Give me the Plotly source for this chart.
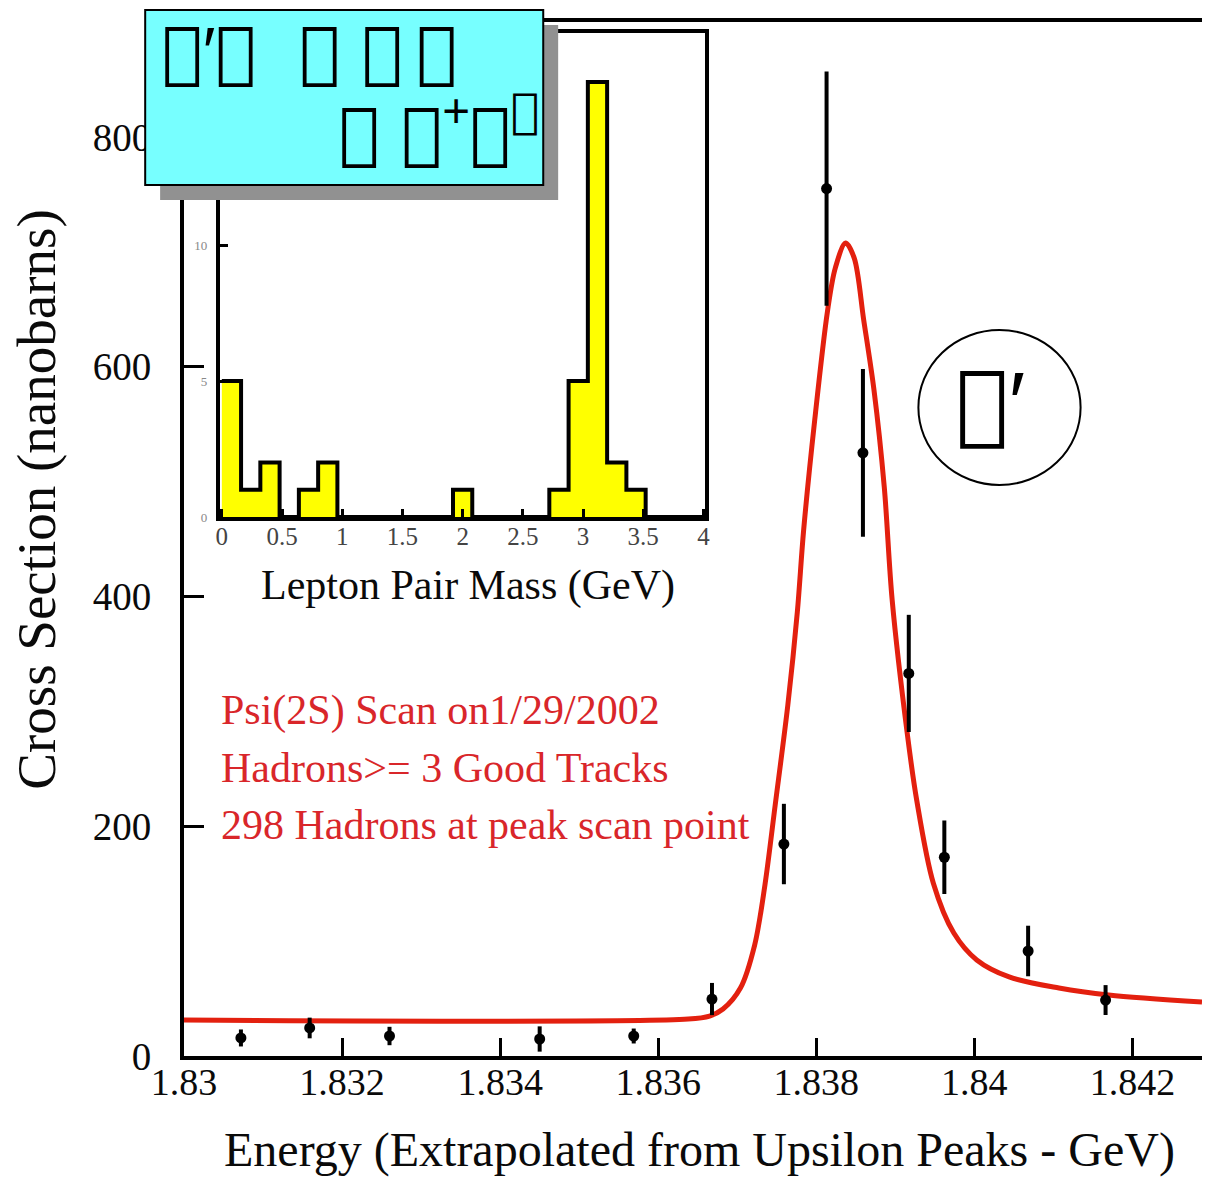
import numpy as np
import plotly.graph_objects as go

# ---- scan data: psi(2S) hadronic cross section vs. beam energy ----
SCAN_E = [1.83072, 1.83159, 1.83260, 1.83450, 1.83569, 1.83668, 1.83759,
          1.83813, 1.83859, 1.83917, 1.83962, 1.84068, 1.84166]
SCAN_SIGMA = [15.7, 24.4, 17.4, 14.8, 17.4, 49.6, 184.5,
              755.0, 525.0, 333.0, 173.0, 91.4, 48.7]
SCAN_ERR = [7.4, 9.0, 8.0, 11.0, 6.5, 14.0, 35.0,
            102.0, 73.0, 51.0, 32.0, 22.0, 13.0]

# ---- fitted resonance shape ----
FIT_E = [1.83000, 1.83638, 1.83665, 1.83682, 1.83704, 1.83722, 1.83735,
         1.83748, 1.83764, 1.83776, 1.83784, 1.83798, 1.83814, 1.83824,
         1.83837, 1.83848, 1.83860, 1.83873, 1.83886, 1.83896, 1.83915,
         1.83927, 1.83948, 1.83974, 1.84003, 1.84044, 1.84107, 1.84170,
         1.84288]
FIT_SIGMA = [31.3, 32.2, 34.8, 40.9, 59.2, 96.6, 148.8,
             218.5, 305.5, 386.4, 457.8, 553.5, 647.5, 685.8,
             707.6, 694.5, 640.6, 579.6, 495.2, 396.9, 281.1,
             222.8, 150.6, 107.0, 83.6, 68.8, 59.2, 53.1,
             47.0]

# ---- inset: lepton pair mass histogram (25 bins over 0-4 GeV) ----
PAIR_COUNTS = [5, 1, 2, 0, 1, 2, 0, 0, 0, 0, 0, 0, 1, 0, 0, 0, 0, 1, 5, 16,
               2, 1, 0, 0, 0]
PAIR_EDGES = np.linspace(0.0, 4.0, len(PAIR_COUNTS) + 1)

X_TICKS = [1.83, 1.832, 1.834, 1.836, 1.838, 1.84, 1.842]
X_TICK_TEXT = ["1.83", "1.832", "1.834", "1.836", "1.838", "1.84", "1.842"]
Y_TICKS = [0, 200, 400, 600, 800]
INSET_X_TICKS = [0, 0.5, 1, 1.5, 2, 2.5, 3, 3.5, 4]
INSET_X_TEXT = ["0", "0.5", "1", "1.5", "2", "2.5", "3", "3.5", "4"]
INSET_Y_TICKS = [0, 5, 10, 15]

# decay-chain labels, typed in Symbol-font code points
# (psi, prime, arrow, pi, mu, minus); prime and plus use a sans face
PRIME = "<span style='font-family:Liberation Sans'>\u2032</span>"
PLUS = "<span style='font-family:Liberation Sans'>+</span>"
DECAY_LINE1 = "\uf079" + PRIME + "\uf0ae  \uf079 \uf070\u2009\uf070"
DECAY_LINE2 = "\uf0ae \uf06d<sup>" + PLUS + "</sup>\uf06d<sup>\uf02d</sup>"
PSI_PRIME = "\uf079" + PRIME

NOTES = ["Psi(2S) Scan on1/29/2002",
         "Hadrons>= 3 Good Tracks",
         "298 Hadrons at peak scan point"]

W, H = 1207, 1177
PL, PR, PT, PB = 184, 1207, 22, 1056


def fx(px):
    return (px - PL) / (PR - PL)


def fy(py):
    return (PB - py) / (PB - PT)


SERIF = "Liberation Serif"
LABEL_FONT = "DejaVu Sans"
FIT_RED = "#e3200f"
TEXT_RED = "#d9262a"
INK = "#0a0a0a"

fig = go.Figure()

# fit curve
fig.add_trace(go.Scatter(
    x=FIT_E, y=FIT_SIGMA, mode="lines",
    line=dict(color=FIT_RED, width=5, shape="spline", smoothing=0.9),
    hoverinfo="skip", showlegend=False))

# measured points
fig.add_trace(go.Scatter(
    x=SCAN_E, y=SCAN_SIGMA, mode="markers",
    marker=dict(color="black", size=11),
    error_y=dict(type="data", array=SCAN_ERR, color="black",
                 thickness=4, width=0),
    showlegend=False))

# inset histogram drawn as a filled step outline
step_x = list(PAIR_EDGES[:-1]) + [PAIR_EDGES[-1]]
step_y = list(PAIR_COUNTS) + [PAIR_COUNTS[-1]]
fig.add_trace(go.Scatter(
    x=step_x, y=step_y, mode="lines", xaxis="x2", yaxis="y2",
    line=dict(color="black", width=4, shape="hv"),
    fill="tozeroy", fillcolor="#ffff00",
    hoverinfo="skip", showlegend=False))

fig.update_layout(
    width=W, height=H,
    margin=dict(l=PL, r=W - PR, t=PT, b=H - PB, pad=0),
    paper_bgcolor="white", plot_bgcolor="white",
    showlegend=False,
    xaxis=dict(
        domain=[0, 1], range=[1.83, 1.84288],
        tickvals=X_TICKS, ticktext=X_TICK_TEXT,
        ticks="inside", ticklen=18, tickwidth=3, tickcolor="black",
        showline=True, linewidth=4, linecolor="black", mirror=True,
        showgrid=False, zeroline=False,
        tickfont=dict(family=SERIF, size=38, color=INK),
        ticklabelstandoff=-11),
    yaxis=dict(
        domain=[0, 1], range=[0, 900],
        tickvals=Y_TICKS,
        ticks="inside", ticklen=20, tickwidth=3, tickcolor="black",
        showline=True, linewidth=4, linecolor="black", mirror=False,
        showgrid=False, zeroline=False,
        tickfont=dict(family=SERIF, size=39, color=INK),
        ticklabelstandoff=21),
    xaxis2=dict(
        domain=[fx(220), fx(708)], range=[-0.0165, 4.0165], anchor="y2",
        tickvals=INSET_X_TICKS, ticktext=INSET_X_TEXT,
        ticks="inside", ticklen=8, tickwidth=3, tickcolor="black",
        showline=True, linewidth=4, linecolor="black", mirror=True,
        showgrid=False, zeroline=False,
        tickfont=dict(family=SERIF, size=25, color="#444444"),
        ticklabelstandoff=-6),
    yaxis2=dict(
        domain=[fy(517), fy(33)], range=[0, 17.8], anchor="x2",
        tickvals=INSET_Y_TICKS,
        ticks="inside", ticklen=8, tickwidth=3, tickcolor="black",
        showline=True, linewidth=4, linecolor="black", mirror=True,
        showgrid=False, zeroline=False,
        tickfont=dict(family=SERIF, size=13, color="#888888"),
        ticklabelstandoff=6),
)

shapes = [
    # drop shadow and cyan label box
    dict(type="rect", xref="paper", yref="paper",
         x0=fx(160), x1=fx(560), y0=fy(200), y1=fy(25),
         fillcolor="#919191", line=dict(width=0), layer="above"),
    dict(type="rect", xref="paper", yref="paper",
         x0=fx(145), x1=fx(545), y0=fy(185), y1=fy(10),
         fillcolor="#77ffff", line=dict(color="black", width=2),
         layer="above"),
    # ring around the resonance label
    dict(type="circle", xref="paper", yref="paper",
         x0=fx(922), x1=fx(1085), y0=fy(485), y1=fy(330),
         line=dict(color="black", width=2), layer="above"),
]

annotations = [
    dict(text="Energy (Extrapolated from Upsilon Peaks - GeV)",
         x=fx(702), y=fy(1150), xref="paper", yref="paper",
         xanchor="center", yanchor="middle", showarrow=False,
         font=dict(family=SERIF, size=48, color=INK)),
    dict(text="Cross Section (nanobarns)", textangle=-90,
         x=fx(35), y=fy(500), xref="paper", yref="paper",
         xanchor="center", yanchor="middle", showarrow=False,
         font=dict(family=SERIF, size=55, color=INK)),
    dict(text="Lepton Pair Mass (GeV)",
         x=fx(469), y=fy(585), xref="paper", yref="paper",
         xanchor="center", yanchor="middle", showarrow=False,
         font=dict(family=SERIF, size=42, color=INK)),
    dict(text=DECAY_LINE1, x=fx(160), y=fy(51), xref="paper", yref="paper",
         xanchor="left", yanchor="middle", showarrow=False,
         font=dict(family=LABEL_FONT, size=68, color="black")),
    dict(text=DECAY_LINE2, x=fx(338), y=fy(128), xref="paper", yref="paper",
         xanchor="left", yanchor="middle", showarrow=False,
         font=dict(family=LABEL_FONT, size=68, color="black")),
    dict(text=PSI_PRIME, x=fx(958), y=fy(403), xref="paper", yref="paper",
         xanchor="left", yanchor="middle", showarrow=False,
         font=dict(family=LABEL_FONT, size=88, color="black")),
]
for i, line in enumerate(NOTES):
    annotations.append(dict(
        text=line, x=fx(219), y=fy(710 + 57.5 * i), xref="paper", yref="paper",
        xanchor="left", yanchor="middle", showarrow=False,
        font=dict(family=SERIF, size=42, color=TEXT_RED)))

fig.update_layout(shapes=shapes, annotations=annotations)

fig.write_html("out.html")
